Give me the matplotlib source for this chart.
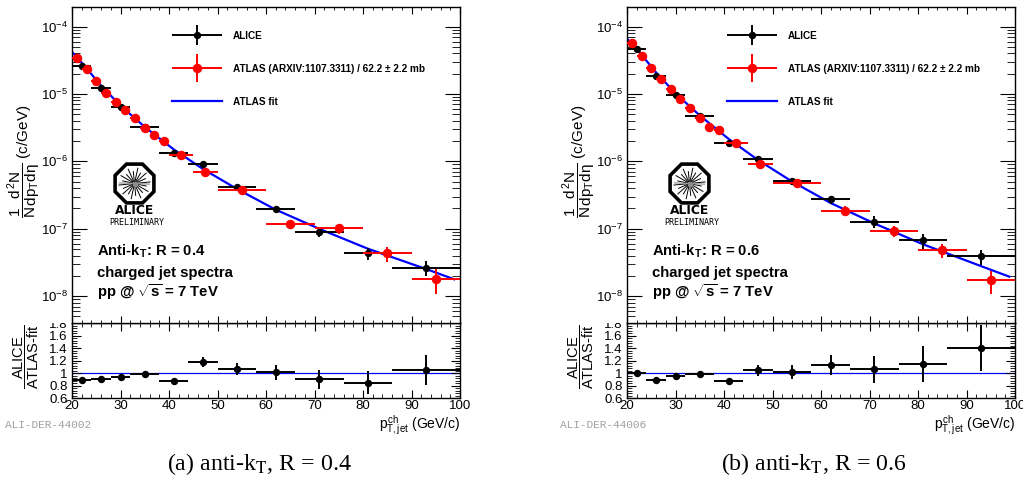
import numpy as np
import matplotlib
matplotlib.use('Agg')
import matplotlib.pyplot as plt
from matplotlib.patches import RegularPolygon, Rectangle
from matplotlib.legend_handler import HandlerErrorbar
from matplotlib.ticker import MultipleLocator, LogLocator, NullFormatter, FuncFormatter

plt.rcParams['font.family'] = 'Liberation Sans'
plt.rcParams['mathtext.fontset'] = 'custom'
plt.rcParams['mathtext.rm'] = 'Liberation Sans'
plt.rcParams['mathtext.it'] = 'Liberation Sans'
plt.rcParams['mathtext.sf'] = 'Liberation Sans'
plt.rcParams['mathtext.bf'] = 'Liberation Sans:bold'

# pT bins (GeV/c)
alice_edges = [20, 24, 28, 32, 38, 44, 50, 58, 66, 76, 86, 100]
atlas_edges = [20, 22, 24, 26, 28, 30, 32, 34, 36, 38, 40, 45, 50, 60, 70, 80, 90, 100]
fit_pt = [20, 22, 26, 30, 35, 41, 47, 54, 62, 71, 81, 93, 98.8]

# anti-kT R = 0.4
alice_r04 = [2.6e-5, 1.21e-5, 6.3e-6, 3.2e-6, 1.31e-6, 9.1e-7, 4.15e-7, 1.95e-7, 9.0e-8, 4.3e-8, 2.66e-8]
alice_r04_rel = [0.02, 0.02, 0.02, 0.02, 0.03, 0.08, 0.10, 0.13, 0.17, 0.21, 0.24]
atlas_r04 = [3.4e-5, 2.33e-5, 1.58e-5, 1.03e-5, 7.7e-6, 5.8e-6, 4.35e-6, 3.16e-6, 2.46e-6, 2.0e-6,
             1.23e-6, 7.0e-7, 3.75e-7, 1.16e-7, 1.01e-7, 4.3e-8, 1.82e-8]
atlas_r04_rel = [0.05, 0.04, 0.04, 0.04, 0.04, 0.04, 0.04, 0.04, 0.04, 0.04,
                 0.05, 0.06, 0.07, 0.14, 0.18, 0.24, 0.40]
fit_r04 = [4.2e-5, 2.91e-5, 1.33e-5, 6.7e-6, 3.24e-6, 1.5e-6, 7.7e-7, 3.9e-7, 1.92e-7, 9.96e-8,
           5.06e-8, 2.53e-8, 1.78e-8]
ratio_r04 = [0.893, 0.909, 0.941, 0.989, 0.872, 1.176, 1.064, 1.016, 0.904, 0.85, 1.053]
ratio_r04_err = [0.02, 0.02, 0.02, 0.02, 0.02, 0.08, 0.10, 0.12, 0.15, 0.18, 0.24]

# anti-kT R = 0.6
alice_r06 = [4.66e-5, 1.85e-5, 9.8e-6, 4.77e-6, 1.89e-6, 1.1e-6, 5.15e-7, 2.72e-7, 1.27e-7, 6.76e-8, 3.9e-8]
alice_r06_rel = [0.02, 0.02, 0.02, 0.02, 0.03, 0.09, 0.11, 0.14, 0.20, 0.25, 0.26]
atlas_r06 = [5.65e-5, 3.67e-5, 2.4e-5, 1.67e-5, 1.17e-5, 8.3e-6, 6.1e-6, 4.4e-6, 3.27e-6, 2.92e-6,
             1.85e-6, 9.1e-7, 4.8e-7, 1.85e-7, 9.3e-8, 4.8e-8, 1.72e-8]
atlas_r06_rel = [0.05, 0.04, 0.04, 0.04, 0.04, 0.04, 0.04, 0.04, 0.04, 0.04,
                 0.05, 0.06, 0.07, 0.17, 0.18, 0.24, 0.38]
fit_r06 = [6.6e-5, 4.66e-5, 2.08e-5, 1.02e-5, 4.8e-6, 2.14e-6, 1.05e-6, 5.04e-7, 2.41e-7, 1.2e-7,
           5.9e-8, 2.79e-8, 1.95e-8]
ratio_r06 = [1.0, 0.888, 0.957, 0.995, 0.883, 1.048, 1.021, 1.128, 1.059, 1.144, 1.40]
ratio_r06_err = [0.02, 0.02, 0.02, 0.02, 0.03, 0.09, 0.11, 0.16, 0.21, 0.29, 0.37]

W, H = 1023, 479
fig = plt.figure(figsize=(W / 100, H / 100), dpi=100)


def bins(edges):
    e = np.array(edges, dtype=float)
    return (e[:-1] + e[1:]) / 2, (e[1:] - e[:-1]) / 2


def draw_logo(x0):
    lg = fig.add_axes([(x0 + 62.5 - 30) / W, 1 - (183.5 + 30) / H, 60 / W, 60 / H], zorder=3)
    lg.set_xlim(-1, 1)
    lg.set_ylim(-1, 1)
    lg.axis('off')
    lg.add_patch(RegularPolygon((0, 0), 8, radius=0.70, orientation=np.pi / 8,
                                facecolor='white', edgecolor='black', lw=2.6))
    for k in range(20):
        a = 2 * np.pi * k / 20 + 0.1
        r = 0.52 if k % 2 == 0 else 0.40
        lg.plot([0.07 * np.cos(a), r * np.cos(a)], [0.07 * np.sin(a), r * np.sin(a)],
                color='black', lw=0.7)
    lg.plot([-0.5, 0.5], [0.02, -0.02], color='0.6', lw=0.9)
    lg.plot([0], [0], 'o', color='0.55', ms=3)


def draw_panel(x0, alice, alice_rel, atlas, atlas_rel, fit, ratio, ratio_err, radius, tag, caption):
    ax = fig.add_axes([x0 / W, 1 - 323 / H, 388 / W, 316 / H], zorder=2)
    axr = fig.add_axes([x0 / W, 1 - 398.3 / H, 388 / W, 75.3 / H], zorder=1)

    ac, aw = bins(alice_edges)
    tc, tw = bins(atlas_edges)
    alice = np.array(alice)
    atlas = np.array(atlas)

    h_fit, = ax.plot(fit_pt, fit, color='blue', lw=1.6, zorder=2)
    h_alice = ax.errorbar(ac, alice, xerr=aw, yerr=alice * np.array(alice_rel), fmt='o',
                          color='black', ms=4.3, elinewidth=1.4, capsize=0, zorder=3)
    h_atlas = ax.errorbar(tc, atlas, xerr=tw, yerr=atlas * np.array(atlas_rel), fmt='o',
                          color='red', ms=5.8, elinewidth=1.4, capsize=0, zorder=4)

    ax.set_yscale('log')
    ax.set_xlim(20, 100)
    ax.set_ylim(4.0e-9, 1.95e-4)
    ax.xaxis.set_major_locator(MultipleLocator(10))
    ax.xaxis.set_minor_locator(MultipleLocator(2))
    ax.xaxis.set_major_formatter(NullFormatter())
    ax.yaxis.set_major_locator(LogLocator(base=10, numticks=10))
    ax.yaxis.set_minor_locator(LogLocator(base=10, subs=np.arange(2, 10), numticks=20))
    ax.yaxis.set_minor_formatter(NullFormatter())
    ax.tick_params(which='both', direction='in', top=True, right=True, labelsize=9.5, pad=3)
    ax.tick_params(axis='x', which='major', length=5)
    ax.tick_params(axis='x', which='minor', length=2.5)
    ax.tick_params(axis='y', which='major', length=10.5)
    ax.tick_params(axis='y', which='minor', length=5.5)
    for s in ax.spines.values():
        s.set_linewidth(1.0)

    ax.text(-0.124, 0.513, r'$\dfrac{1}{N}\dfrac{d^{2}N}{dp_{T}d\eta}$ (c/GeV)', rotation=90,
            ha='center', va='center', fontsize=11, transform=ax.transAxes)

    ax.legend([h_alice, h_atlas, h_fit],
              ['ALICE', 'ATLAS (ARXIV:1107.3311) / 62.2 \u00b1 2.2 mb', 'ATLAS fit'],
              loc='upper left', bbox_to_anchor=(0.258, 0.925), frameon=False,
              prop={'weight': 'bold', 'size': 7.2}, handlelength=5.0, handletextpad=1.1,
              labelspacing=2.3, borderpad=0, borderaxespad=0,
              handler_map={h_alice: HandlerErrorbar(xerr_size=2.5, yerr_size=1.0),
                           h_atlas: HandlerErrorbar(xerr_size=2.5, yerr_size=1.4)})

    lines = [r'Anti-k$_\mathbf{T}$: R = ' + radius, 'charged jet spectra',
             r'pp @ $\sqrt{\mathbf{s}}$ = 7 TeV']
    for txt, yb in zip(lines, [0.212, 0.1456, 0.0823]):
        ax.text(0.0644, yb, txt, fontsize=10.7, fontweight='bold', va='baseline',
                transform=ax.transAxes)

    ax.text(0.162, 0.356, 'ALICE', family='DejaVu Sans', fontweight='bold', fontsize=8.8,
            ha='center', va='center', transform=ax.transAxes)
    ax.text(0.167, 0.3196, 'PRELIMINARY', family='DejaVu Sans Mono', fontsize=6, ha='center',
            va='center', transform=ax.transAxes)
    draw_logo(x0)

    # ratio to the ATLAS fit
    axr.axhline(1.0, color='blue', lw=0.9, zorder=1)
    axr.errorbar(ac, ratio, xerr=aw, yerr=ratio_err, fmt='o', color='black', ms=4.3,
                 elinewidth=1.4, capsize=0, zorder=3)
    axr.set_xlim(20, 100)
    axr.set_ylim(0.6, 1.8)
    axr.xaxis.set_major_locator(MultipleLocator(10))
    axr.xaxis.set_minor_locator(MultipleLocator(2))
    axr.yaxis.set_major_locator(MultipleLocator(0.2))
    axr.yaxis.set_minor_locator(MultipleLocator(0.04))
    axr.yaxis.set_major_formatter(FuncFormatter(lambda v, _: f'{v:g}'))
    axr.tick_params(which='both', direction='in', top=True, right=True, labelsize=9.5)
    axr.tick_params(axis='x', which='major', length=5.8, pad=1.5)
    axr.tick_params(axis='x', which='minor', length=3)
    axr.tick_params(axis='y', which='major', length=6.5, pad=3)
    axr.tick_params(axis='y', which='minor', length=3.5)
    for s in axr.spines.values():
        s.set_linewidth(1.0)
    axr.text(-0.118, 0.55, r'$\dfrac{\text{ALICE}}{\text{ATLAS-fit}}$', rotation=90,
             ha='center', va='center', fontsize=10.5, transform=axr.transAxes)
    axr.text(1.0, -0.4, r'$p_{T,jet}^{ch}$ (GeV/c)', ha='right', va='baseline', fontsize=10,
             transform=axr.transAxes)

    # upper pad hides the top of the ratio axis labels
    fig.add_artist(Rectangle(((x0 - 35) / W, 1 - 323 / H), 35 / W, 12 / H,
                             transform=fig.transFigure, facecolor='white', edgecolor='none',
                             zorder=1.5))

    fig.text((x0 - 67) / W, 1 - 428 / H, tag, family='Liberation Mono', fontsize=8,
             color='#a0a0a0', va='baseline')
    fig.text((x0 + 187) / W, 1 - 470 / H, caption, family='Liberation Serif',
             math_fontfamily='stix', fontsize=17.2, ha='center', va='baseline')


draw_panel(72, alice_r04, alice_r04_rel, atlas_r04, atlas_r04_rel, fit_r04,
           ratio_r04, ratio_r04_err, '0.4', 'ALI-DER-44002', r'(a) anti-k$_\mathrm{T}$, R = 0.4')
draw_panel(627, alice_r06, alice_r06_rel, atlas_r06, atlas_r06_rel, fit_r06,
           ratio_r06, ratio_r06_err, '0.6', 'ALI-DER-44006', r'(b) anti-k$_\mathrm{T}$, R = 0.6')

fig.savefig('out.png', dpi=100)
